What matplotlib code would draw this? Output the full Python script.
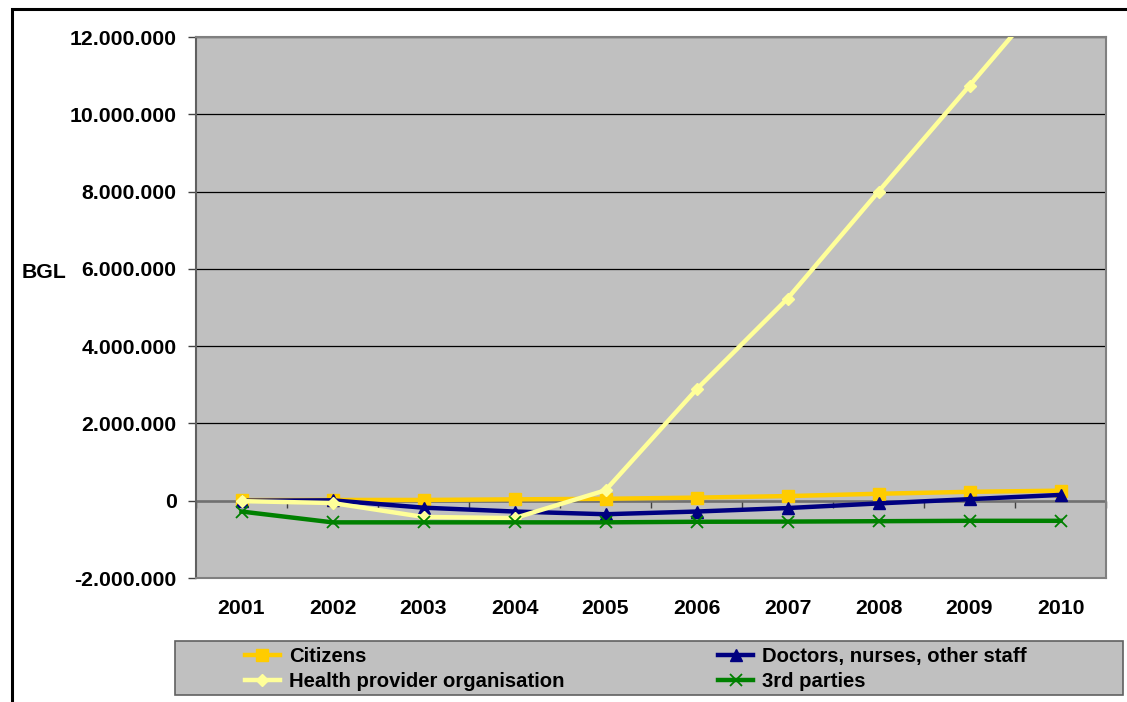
import matplotlib
matplotlib.use('Agg')
import matplotlib.pyplot as plt
import matplotlib.patches as patches
from matplotlib.ticker import FuncFormatter, FixedLocator

plt.rcParams['font.family'] = ['Liberation Sans', 'DejaVu Sans']
plt.rcParams['font.weight'] = 'bold'

# data (BGL)
years = ['2001', '2002', '2003', '2004', '2005', '2006', '2007', '2008', '2009', '2010']
citizens = [15000, 20000, 20000, 35000, 50000, 80000, 120000, 180000, 230000, 260000]
doctors = [0, 10000, -180000, -280000, -350000, -280000, -190000, -70000, 40000, 150000]
health = [-10000, -60000, -420000, -450000, 270000, 2880000, 5230000, 8000000, 10740000, 13500000]
third = [-280000, -560000, -560000, -560000, -560000, -545000, -540000, -530000, -520000, -520000]

series_names = ['Citizens', 'Doctors, nurses, other staff', 'Health provider organisation', '3rd parties']

W, H = 1127, 702
fig = plt.figure(figsize=(W / 100, H / 100), dpi=100)
fig.patch.set_facecolor('white')

# outer chart border
fig.patches.append(patches.Rectangle((12 / W, -0.05), 1.1, 1 - 9 / H + 0.05,
                                     transform=fig.transFigure, fill=False,
                                     edgecolor='black', linewidth=2.2))

ax = fig.add_axes([196 / W, 1 - 578 / H, (1106 - 196) / W, (578 - 37) / H])
ax.set_facecolor('#C0C0C0')

x = list(range(len(years)))
fs = 15.3
leg_fs = 14.6

ax.plot(x, citizens, color='#FFCC00', lw=3.2, marker='s', ms=8.5, mec='#FFCC00', label=series_names[0], zorder=3)
ax.plot(x, doctors, color='#000080', lw=3.2, marker='^', ms=8.5, mec='#000080', label=series_names[1], zorder=4)
ax.plot(x, health, color='#FFFF99', lw=3.2, marker='D', ms=6.5, mec='#FFFF99', label=series_names[2], zorder=5)
ax.plot(x, third, color='#008000', lw=3.2, marker='x', ms=9, mew=1.3, mec='#008000', label=series_names[3], zorder=6)

ax.set_xlim(-0.5, len(years) - 0.5)
ax.set_ylim(-2000000, 12000000)
ax.set_yticks(range(-2000000, 12000001, 2000000))
ax.yaxis.set_major_formatter(FuncFormatter(lambda v, p: f"{int(v):,}".replace(',', '.')))
ax.grid(axis='y', color='black', lw=0.9, zorder=1)
ax.set_axisbelow(True)

ax.set_xticks(x)
ax.set_xticklabels(years)
ax.tick_params(axis='x', length=0, pad=15, labelsize=fs)
ax.tick_params(axis='y', length=6, width=1, color='#404040', pad=8, labelsize=fs)

for s in ax.spines.values():
    s.set_color('#808080')
    s.set_linewidth(1.5)
ax.spines['left'].set_color('#606060')

# category axis crossing at zero
ax.axhline(0, color='#707070', lw=1.8, zorder=2)
zero_frac = (0 - (-2000000)) / (12000000 - (-2000000))
sec = ax.secondary_xaxis(zero_frac)
sec.xaxis.set_major_locator(FixedLocator([i + 0.5 for i in range(-1, len(years))]))
sec.tick_params(axis='x', direction='out', length=5, width=1, color='#404040', labelbottom=False, labeltop=False, top=False, bottom=True)
sec.spines['bottom'].set_visible(False)
sec.spines['top'].set_visible(False)

fig.text(22 / W, 1 - 272 / H, 'BGL', fontsize=fs, fontweight='bold', ha='left', va='center')

# legend box
fig.patches.append(patches.Rectangle((175 / W, 1 - 695 / H), (1123 - 175) / W, (695 - 641) / H,
                                     transform=fig.transFigure, facecolor='#C0C0C0',
                                     edgecolor='#606060', linewidth=1.2))
handles, labels = ax.get_legend_handles_labels()
order = [0, 2, 1, 3]
leg = fig.legend([handles[i] for i in order], [labels[i] for i in order], ncol=2,
                 loc='upper left', bbox_to_anchor=(245 / W, 1 - 647 / H),
                 frameon=False, fontsize=leg_fs, borderpad=0, borderaxespad=0,
                 handlelength=1.72, handletextpad=0.44, columnspacing=7.6,
                 labelspacing=0.3, numpoints=1)
for t in leg.get_texts():
    t.set_fontweight('bold')

fig.savefig('out.png', dpi=100)
